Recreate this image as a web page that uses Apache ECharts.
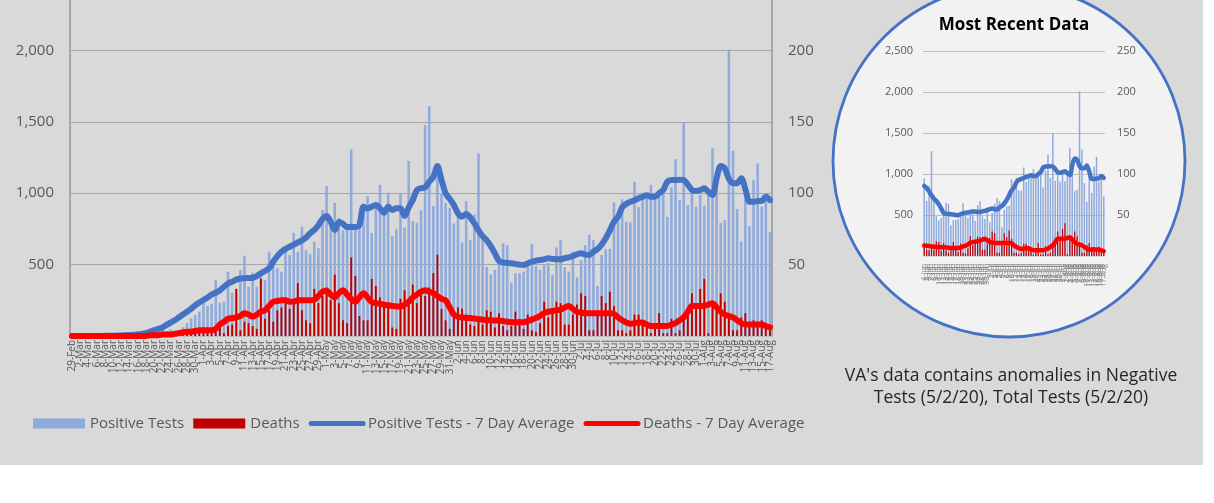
<!DOCTYPE html>
<html>
<head>
<meta charset="utf-8">
<script src="https://cdn.jsdelivr.net/npm/echarts@6/dist/echarts.min.js"></script>
<style>
html,body{margin:0;padding:0;background:#fff;overflow:hidden;width:1214px;height:503px;position:relative;}
/* the reference crops the top of the chart: the 2,500 gridline sits just above the window */
#c{position:absolute;left:0;top:-21px;width:1214px;height:524px;}
</style>
</head>
<body>
<div id="c"></div>
<script>
// ---- categories: daily from 29-Feb to 17-Aug ----
const MONTHS = ['Jan','Feb','Mar','Apr','May','Jun','Jul','Aug','Sep','Oct','Nov','Dec'];
const START_DATE = [2020, 1, 29];   // 29-Feb-2020
const DAY_COUNT = 171;
const dates = [];
for (let k = 0; k < DAY_COUNT; k++) {
  const d = new Date(Date.UTC(START_DATE[0], START_DATE[1], START_DATE[2] + k));
  dates.push(d.getUTCDate() + '-' + MONTHS[d.getUTCMonth()]);
}

// ---- series values ----
const positiveTests = [
  0,0,0,0,0,0,0,2,0,1,
  2,2,5,8,10,11,15,22,20,35,
  20,38,50,33,45,36,42,61,90,124,
  147,170,231,210,225,392,233,240,450,303,
  330,462,562,345,443,345,420,392,590,497,
  474,450,625,567,723,590,765,600,573,660,
  614,882,1050,770,933,826,742,770,1307,742,
  777,903,980,721,903,1059,850,1004,700,747,
  999,760,1225,805,793,880,1477,1610,910,1150,
  1000,933,898,788,835,655,945,672,851,1279,
  695,485,432,462,532,649,637,374,439,439,
  451,490,644,490,462,504,511,427,621,672,
  483,450,590,411,532,637,707,672,350,567,
  607,609,936,800,957,800,797,1080,903,1003,
  960,1059,1003,1015,1000,835,1040,1239,952,1496,
  917,1003,905,987,912,987,1314,1100,793,812,
  2007,1297,889,660,957,770,1092,1209,905,952,726
];
const deaths = [
  0,0,0,0,0,0,0,0,0,0,
  0,0,0,0,1,0,1,0,2,0,
  1,0,2,1,2,1,2,3,3,3,
  5,4,5,3,2,3,6,2,7,8,
  33,4,10,9,7,5,40,12,18,10,
  18,20,23,19,22,37,18,11,9,33,
  23,28,34,25,43,23,11,9,55,42,
  14,11,11,40,35,27,23,20,6,5,
  26,32,23,36,23,32,28,34,44,57,
  19,11,5,16,20,19,15,8,7,12,
  8,18,17,6,16,7,4,7,17,12,
  5,15,4,3,9,24,13,18,24,23,
  8,8,15,22,30,28,4,4,18,28,
  23,31,21,4,4,2,4,15,15,11,
  7,2,7,16,2,2,12,2,4,16,
  18,30,21,33,40,2,21,21,30,24,
  12,4,4,13,16,10,11,9,11,7,4
];
const positiveAvg = [
  0,0,0,0,0,0,0,0,1,1,
  2,3,4,6,7,9,12,15,20,30,
  42,50,60,78,93,110,130,150,170,190,
  215,235,252,270,290,303,320,345,368,380,
  395,403,405,406,408,420,439,455,474,520,
  560,590,610,625,640,655,670,690,720,742,
  775,820,840,800,742,798,785,763,765,763,
  779,905,893,905,917,895,863,905,882,895,
  895,840,900,952,1022,1035,1041,1080,1115,1190,
  1092,1000,960,917,860,835,854,830,788,740,
  700,670,630,579,525,514,512,509,505,500,
  497,510,520,528,532,537,544,540,537,537,
  545,551,560,572,579,570,567,590,610,640,
  684,740,800,835,900,925,940,950,965,975,
  985,975,975,1000,1022,1080,1092,1092,1095,1092,
  1060,1022,1015,1022,1034,1010,987,1104,1190,1174,
  1100,1069,1069,1104,1030,940,940,945,947,975,952
];
const deathsAvg = [
  0,0,0,0,0,0,0,0,0,0,
  0,0,0,0,0,0,0,0,0,0.5,
  0.5,0.5,1,1,1,1.5,2,2.5,3,3,
  3.5,4,4,4,4,5,8,10,12,12.5,
  13,14,16,15,13.5,15,17,18,21,24,
  24.5,25,25,24,24,25,25,25,25,25.5,
  28,31,31.7,29,27,30,32,29,26,24,
  27,30,27,23.7,23,22.5,22,21.5,21,20.7,
  20.7,22,24,27,29,31,32,31,30,28,
  26,25,20,15,13.5,12.9,12.8,12.6,12.2,11.8,
  11.4,11.2,11,10.8,10.8,10.5,10,9.7,9.7,9.7,
  9.7,10.5,11.5,12.6,14,16,17,17.5,18,18.5,
  20,21,19,17,16.5,16,16,16,16,16,
  16,16,15.5,13,11,9.5,8.5,9,9.5,9.5,
  8,7,7,7,7,7,8,9,11,13,
  17,21,21,21,21,22,23,20,17,15,
  14,13,11,9,8,8,8,8,8,7,6
];
// "Most Recent Data" inset starts at this category
const RECENT_START = '4-Jun';

// ---- tick settings ----
const leftTicks = {min: 0, max: 2500, interval: 500};
const rightTicks = {min: 0, max: 250, interval: 50};
const LABEL_EVERY = 2;   // main x axis shows every other date

const names = ['Positive Tests', 'Deaths', 'Positive Tests - 7 Day Average', 'Deaths - 7 Day Average'];
const FONT = "'Open Sans', 'Noto Sans', sans-serif";
const GREY = '#595959';

const r0 = dates.indexOf(RECENT_START);
const recentDates = dates.slice(r0);

const fmt = v => v === 0 ? '' : v.toLocaleString('en-US');

const chart = echarts.init(document.getElementById('c'), null, {width: 1214, height: 524});
const option = {
  animation: false,
  backgroundColor: '#ffffff',
  textStyle: {fontFamily: FONT},
  graphic: [
    {type: 'rect', z: -100, silent: true, shape: {x: 0, y: 0, width: 1203, height: 486}, style: {fill: '#d9d9d9'}},
    {type: 'circle', z: -90, silent: true, shape: {cx: 1009, cy: 182, r: 176}, style: {fill: '#f2f2f2', stroke: '#4472c4', lineWidth: 2.8}},
    {type: 'text', z: 10, x: 1014, y: 46, style: {text: 'Most Recent Data', fill: '#000000', font: "bold 17px 'Open Sans', 'Noto Sans', sans-serif", align: 'center', verticalAlign: 'middle'}},
    {type: 'text', z: 10, x: 1011, y: 408, style: {text: "VA's data contains anomalies in Negative\nTests (5/2/20), Total Tests (5/2/20)", fill: '#262626', font: "17.5px 'Open Sans', 'Noto Sans', sans-serif", align: 'center', verticalAlign: 'middle', lineHeight: 22}}
  ],
  legend: {
    left: 28, top: 432,
    itemWidth: 52, itemHeight: 10, itemGap: 9,
    textStyle: {fontSize: 15, color: GREY, fontFamily: FONT},
    data: [
      {name: names[0], icon: 'rect'},
      {name: names[1], icon: 'rect'},
      {name: names[2], itemStyle: {opacity: 0}, lineStyle: {width: 5, cap: 'round'}},
      {name: names[3], itemStyle: {opacity: 0}, lineStyle: {width: 5, cap: 'round'}}
    ]
  },
  grid: [
    {left: 70, right: 442, top: 0, bottom: 167, containLabel: false, outerBoundsMode: 'none'},
    {left: 923, right: 109, top: 72, bottom: 247, containLabel: false, outerBoundsMode: 'none'}
  ],
  xAxis: [
    {type: 'category', gridIndex: 0, data: dates, boundaryGap: true,
      axisLine: {show: true, lineStyle: {color: '#bfbfbf', width: 1}},
      axisTick: {show: false},
      axisLabel: {rotate: 90, interval: 0, fontSize: 10, color: GREY, margin: 4, fontFamily: FONT, hideOverlap: false,
        formatter: (v, i) => (i % LABEL_EVERY === 0 ? v : '')}},
    {type: 'category', gridIndex: 0, data: dates, show: false},
    {type: 'category', gridIndex: 1, data: recentDates,
      axisLine: {show: true, lineStyle: {color: '#d9d9d9', width: 1}},
      axisTick: {show: false},
      axisLabel: {rotate: 90, interval: 0, fontSize: 7, lineHeight: 1, color: '#7f7f7f', margin: 8, fontFamily: FONT, hideOverlap: false}},
    {type: 'category', gridIndex: 1, data: recentDates, show: false}
  ],
  yAxis: [
    {type: 'value', gridIndex: 0, position: 'left', ...leftTicks,
      axisLine: {show: true, lineStyle: {color: '#a6a6a6', width: 2}},
      axisTick: {show: false},
      splitLine: {lineStyle: {color: '#a6a6a6', width: 1.2}},
      axisLabel: {formatter: fmt, fontSize: 15, color: GREY, margin: 16, fontFamily: FONT}},
    {type: 'value', gridIndex: 0, position: 'right', ...rightTicks,
      axisLine: {show: true, lineStyle: {color: '#a6a6a6', width: 2}},
      axisTick: {show: false},
      splitLine: {show: false},
      axisLabel: {formatter: fmt, fontSize: 15, color: GREY, margin: 16, fontFamily: FONT}},
    {type: 'value', gridIndex: 1, position: 'left', ...leftTicks,
      axisLine: {show: false}, axisTick: {show: false},
      splitLine: {lineStyle: {color: '#bfbfbf', width: 1}},
      axisLabel: {formatter: fmt, fontSize: 11, color: GREY, margin: 10, fontFamily: FONT}},
    {type: 'value', gridIndex: 1, position: 'right', ...rightTicks,
      axisLine: {show: false}, axisTick: {show: false},
      splitLine: {show: false},
      axisLabel: {formatter: fmt, fontSize: 11, color: GREY, margin: 12, fontFamily: FONT}}
  ],
  series: [
    {name: names[0], type: 'bar', xAxisIndex: 0, yAxisIndex: 0, data: positiveTests, barWidth: '62%', itemStyle: {color: '#8faadc'}, z: 2},
    {name: names[1], type: 'bar', xAxisIndex: 1, yAxisIndex: 1, data: deaths, barWidth: '46%', itemStyle: {color: '#c00000'}, z: 3},
    {name: names[2], type: 'line', xAxisIndex: 0, yAxisIndex: 0, data: positiveAvg, smooth: 0.3, symbol: 'none',
      lineStyle: {color: '#4472c4', width: 6, cap: 'round', join: 'round'}, itemStyle: {color: '#4472c4'}, z: 4},
    {name: names[3], type: 'line', xAxisIndex: 0, yAxisIndex: 1, data: deathsAvg, smooth: 0.3, symbol: 'none',
      lineStyle: {color: '#ff0000', width: 6, cap: 'round', join: 'round'}, itemStyle: {color: '#ff0000'}, z: 5},

    {name: names[0], type: 'bar', xAxisIndex: 2, yAxisIndex: 2, data: positiveTests.slice(r0), barWidth: '62%', itemStyle: {color: '#8faadc'}, z: 2},
    {name: names[1], type: 'bar', xAxisIndex: 3, yAxisIndex: 3, data: deaths.slice(r0), barWidth: '50%', itemStyle: {color: '#c00000'}, z: 3},
    {name: names[2], type: 'line', xAxisIndex: 2, yAxisIndex: 2, data: positiveAvg.slice(r0), smooth: 0.3, symbol: 'none',
      lineStyle: {color: '#4472c4', width: 4.5, cap: 'round', join: 'round'}, itemStyle: {color: '#4472c4'}, z: 4},
    {name: names[3], type: 'line', xAxisIndex: 2, yAxisIndex: 3, data: deathsAvg.slice(r0), smooth: 0.3, symbol: 'none',
      lineStyle: {color: '#ff0000', width: 4.5, cap: 'round', join: 'round'}, itemStyle: {color: '#ff0000'}, z: 5}
  ]
};
chart.setOption(option);
</script>
</body>
</html>
